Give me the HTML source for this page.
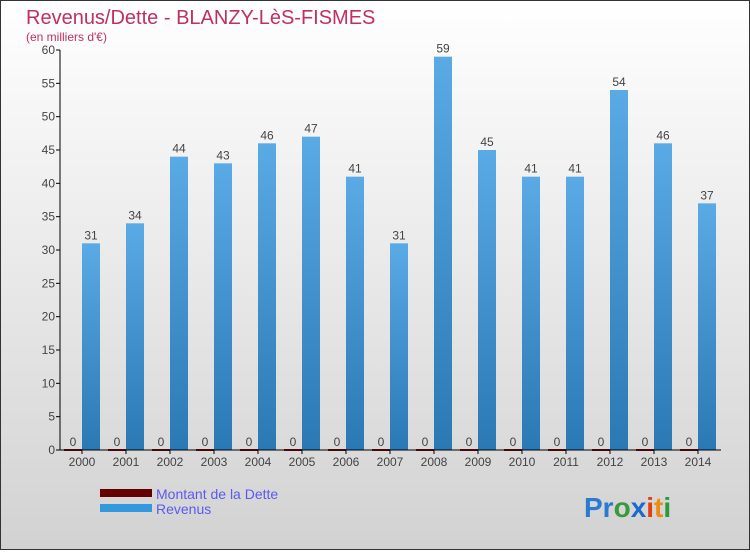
<!DOCTYPE html>
<html><head><meta charset="utf-8"><style>
html,body{margin:0;padding:0}
body{width:750px;height:550px;overflow:hidden;font-family:"Liberation Sans",sans-serif}
</style></head><body>
<svg width="750" height="550" xmlns="http://www.w3.org/2000/svg" font-family="'Liberation Sans',sans-serif">
<defs>
<linearGradient id="bg" x1="0" y1="0" x2="0" y2="1"><stop offset="0" stop-color="#ffffff"/><stop offset="1" stop-color="#d2d2d2"/></linearGradient>
<linearGradient id="rev" x1="0" y1="0" x2="0" y2="1"><stop offset="0" stop-color="#5aaae6"/><stop offset="1" stop-color="#2a78b4"/></linearGradient>
</defs>
<rect x="0.5" y="0.5" width="749" height="549" fill="url(#bg)" stroke="#333"/>
<text x="26" y="24" font-size="20" fill="#c0305e">Revenus/Dette - BLANZY-LèS-FISMES</text>
<text x="26" y="41" font-size="12" fill="#c0305e">(en milliers d'€)</text>
<g id="plot"></g>
<g>
<rect x="100" y="489" width="52" height="8" fill="#640000"/>
<text x="156" y="499" font-size="14" fill="#5a5af0">Montant de la Dette</text>
<rect x="100" y="504" width="52" height="8" fill="#3498dc"/>
<text x="156" y="514" font-size="14" fill="#5a5af0">Revenus</text>
</g>
<g font-size="28" font-weight="bold">
<text x="584" y="517"><tspan fill="#2a7ad0">Pr</tspan><tspan fill="#3a9a3a">o</tspan><tspan fill="#1a6ad0">x</tspan><tspan fill="#e04010">i</tspan><tspan fill="#f08a10">t</tspan><tspan fill="#2a9a3a">i</tspan></text>
</g>
</svg>
<script>
const years=["2000","2001","2002","2003","2004","2005","2006","2007","2008","2009","2010","2011","2012","2013","2014"];
const dette=[0,0,0,0,0,0,0,0,0,0,0,0,0,0,0];
const revenus=[31,34,44,43,46,47,41,31,59,45,41,41,54,46,37];
const yTicks=[0,5,10,15,20,25,30,35,40,45,50,55,60];
const NS="http://www.w3.org/2000/svg";
const g=document.getElementById('plot');
const y=v=>450-v*400/60;
const gx=i=>82+44*i;
function mk(t,a,p){const e=document.createElementNS(NS,t);for(const k in a)e.setAttribute(k,a[k]);(p||g).appendChild(e);return e;}
yTicks.forEach(v=>{
 const l=mk('line',{x1:56,x2:60,y1:y(v),y2:y(v),stroke:'#000'});
 
 
 const t=mk('text',{x:55,y:y(v)+4,'font-size':12,'text-anchor':'end',fill:'#444'});
 
 
 t.textContent=v;
});
years.forEach((yr,i)=>{
 const c=gx(i);
 const d=mk('rect',{x:c-18,y:y(dette[i])-1,width:18,height:Math.max(1,450-y(dette[i]))+1,fill:'#8a1010'});
 
 
 const r=mk('rect',{x:c,y:y(revenus[i]),width:18,height:450-y(revenus[i]),fill:'url(#rev)'});
 
 
 const dl=mk('text',{x:c-9,y:y(dette[i])-4,'font-size':12,'text-anchor':'middle',fill:'#444'});
 
 
 dl.textContent=dette[i];
 const rl=mk('text',{x:c+9,y:y(revenus[i])-4,'font-size':12,'text-anchor':'middle',fill:'#444'});
 
 
 rl.textContent=revenus[i];
 const tk=mk('line',{x1:c,x2:c,y1:450,y2:454,stroke:'#000'});
 
 
 const xl=mk('text',{x:c,y:466,'font-size':12,'text-anchor':'middle',fill:'#444'});
 
 
 xl.textContent=yr;
});
const ya=mk('line',{x1:60,x2:60,y1:50,y2:450,stroke:'#000'});


const xa=mk('line',{x1:60,x2:721,y1:450,y2:450,stroke:'#000'});


</script>
</body></html>
